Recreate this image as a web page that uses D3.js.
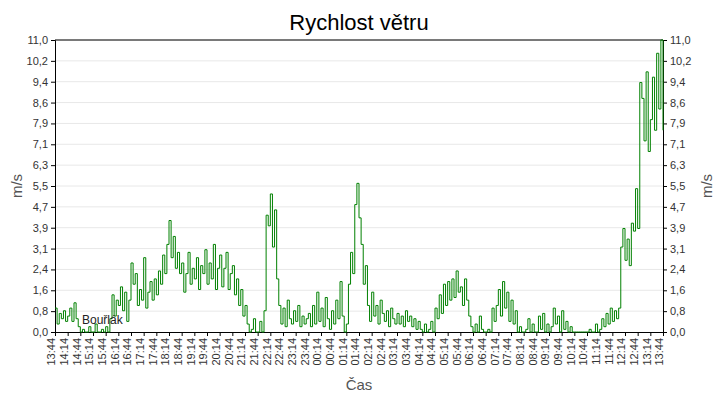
<!DOCTYPE html>
<html><head><meta charset="utf-8">
<script src="https://cdn.jsdelivr.net/npm/d3@7"></script>
<style>body{margin:0;background:#fff}text{font-family:"Liberation Sans",Arial,sans-serif}</style>
</head><body><div id="chart"></div>
<script>
// wind speed, 5-minute samples from 13:44, grouped per half hour
var speeds = [
  0.9,0.3,0.7,0.5,0.8,0.4, 0.6,0.9,0.4,1.1,0.5,0.2, 0,0.1,0,0,0.2,0, 0,0.3,0,0,0.1,0,
  0.2,0,0.5,1.4,0.6,1.2, 1.0,1.7,0.8,1.5,0.4,1.2, 2.6,1.8,2.2,1.0,1.6,1.2, 2.8,0.9,1.5,1.9,1.2,2.0,
  1.4,2.3,1.8,2.9,2.2,3.3, 4.2,2.8,3.6,2.4,3.0,2.2, 2.6,1.5,2.2,3.0,1.8,2.4, 2.0,2.8,1.6,2.5,2.2,3.1,
  1.8,2.6,2.0,3.3,1.6,2.4, 2.9,1.7,2.4,3.0,1.6,2.2, 2.5,1.4,2.0,1.0,1.6,0.6, 1.0,0.3,0,0.1,0.5,0,
  0,0.4,0,0.8,4.4,4.0, 5.2,3.2,4.6,2.0,1.0,0.3, 0.9,0.2,1.2,0.5,0.3,0.8, 0.4,1.0,0.2,0.6,0.3,0.5,
  0.7,0.2,1.0,0.3,1.5,0.4, 0.9,0.2,1.3,0.5,0.1,0.8, 0.3,1.2,0.5,1.9,0.6,0, 0.3,1.8,3.0,2.2,4.8,5.6,
  4.3,3.3,1.8,2.5,1.0,0.4, 1.5,0.6,1.0,0.3,1.2,0.7, 0.4,0.8,0.2,0.9,0.5,0.3, 0.7,0.3,0.6,0.2,0.8,0.4,
  0.6,0.2,0.5,0.1,0.4,0.1, 0,0.3,0,0.1,0.4,0, 0.9,0.5,1.4,0.7,1.8,1.0, 1.9,1.2,2.0,1.3,2.3,1.5,
  1.7,1.0,2.0,1.2,0.6,0.2, 0,0.3,0,0.6,0.1,0, 0,0.1,0,0.9,0.4,1.0, 1.6,0.6,1.9,0.9,1.5,0.4,
  1.2,0.3,0.8,0,0.2,0, 0,0.1,0.5,0,0.3,0, 0,0.6,0.1,0.7,0,0.3, 0,0.2,0.9,0.3,0.6,0,
  0.8,0.1,0.4,0,0.2,0, 0,0,0,0,0,0, 0,0.1,0,0,0.3,0, 0.1,0.5,0.2,0.7,0.3,0.9,
  0.4,0.8,0.5,0.9,3.2,3.9, 2.7,3.5,2.5,4.1,3.8,5.4, 3.9,9.4,8.8,7.2,9.8,6.8, 8.0,9.6,7.6,10.5,8.4,11.0,
  7.6
];
var yTicks = d3.range(15).map(function (k) { return k * 11 / 14; });
var title = "Rychlost větru", yLabel = "m/s", xLabel = "Čas", note = "Bouřlák";

var W = 720, H = 400;
var m = {l: 55, r: 57, t: 40, b: 68};
var start = new Date(2020, 0, 1, 13, 44);
var data = speeds.map(function (v, i) { return {t: d3.timeMinute.offset(start, i * 5), v: v}; });
var end = d3.timeMinute.offset(start, 24 * 60);

var svg = d3.select("#chart").append("svg").attr("width", W).attr("height", H);
var x = d3.scaleTime().domain([start, end]).range([m.l, W - m.r]);
var y = d3.scaleLinear().domain([0, 11]).range([H - m.b, m.t]);

svg.append("g").selectAll("line").data(yTicks.slice(1)).enter().append("line")
  .attr("x1", m.l).attr("x2", W - m.r).attr("y1", y).attr("y2", y)
  .attr("stroke", "#e8e8e8");

var fmt = function (d) { return d.toFixed(1).replace(".", ","); };
var ya = svg.append("g").attr("transform", "translate(" + m.l + ",0)")
  .call(d3.axisLeft(y).tickValues(yTicks).tickFormat(fmt).tickSize(4));
var yb = svg.append("g").attr("transform", "translate(" + (W - m.r) + ",0)")
  .call(d3.axisRight(y).tickValues(yTicks).tickFormat(fmt).tickSize(4));
var xTicks = d3.range(49).map(function (i) { return d3.timeMinute.offset(start, i * 30); });
var xa = svg.append("g").attr("transform", "translate(0," + (H - m.b) + ")")
  .call(d3.axisBottom(x).tickValues(xTicks).tickFormat(d3.timeFormat("%H:%M")).tickSize(4));
xa.selectAll("text").attr("transform", "rotate(-90)").attr("x", -6).attr("y", -4)
  .attr("dy", "0.35em").style("text-anchor", "end");
[ya, yb, xa].forEach(function (g) {
  g.selectAll("text").attr("font-size", 11).attr("fill", "#333");
  g.select(".domain").attr("stroke", "#000");
});
svg.append("line").attr("x1", m.l).attr("x2", W - m.r).attr("y1", m.t).attr("y2", m.t).attr("stroke", "#000");

svg.append("path").datum(data)
  .attr("fill", "none").attr("stroke", "#008000").attr("stroke-width", 1)
  .attr("d", d3.line().curve(d3.curveStepAfter).x(function (d) { return x(d.t); }).y(function (d) { return y(d.v); }));

svg.append("text").attr("x", 82).attr("y", 324).attr("font-size", 12).attr("fill", "#222").text(note);
svg.append("text").attr("x", (m.l + W - m.r) / 2).attr("y", 30).attr("text-anchor", "middle")
  .attr("font-size", 22).text(title);
svg.append("text").attr("x", (m.l + W - m.r) / 2).attr("y", 390).attr("text-anchor", "middle")
  .attr("font-size", 15).attr("fill", "#555").text(xLabel);
svg.append("text").attr("transform", "translate(22," + ((m.t + H - m.b) / 2) + ") rotate(-90)")
  .attr("text-anchor", "middle").attr("font-size", 15).attr("fill", "#555").text(yLabel);
svg.append("text").attr("transform", "translate(712," + ((m.t + H - m.b) / 2) + ") rotate(-90)")
  .attr("text-anchor", "middle").attr("font-size", 15).attr("fill", "#555").text(yLabel);
</script></body></html>
